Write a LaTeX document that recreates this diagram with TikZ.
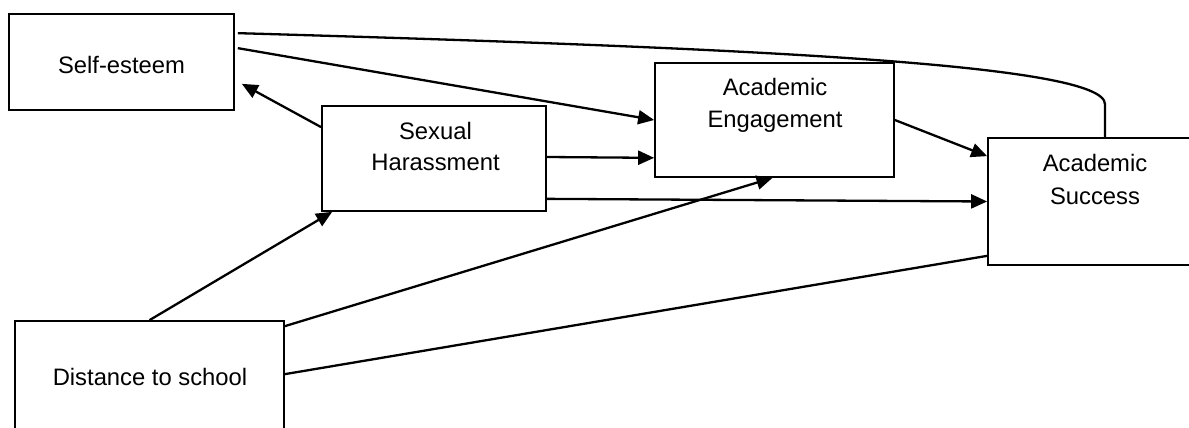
\documentclass[tikz,border=0pt]{standalone}
\usepackage{fontspec}
\setmainfont{Liberation Sans}
\usetikzlibrary{arrows.meta}
\begin{document}
\begin{tikzpicture}[x=1pt,y=-1pt,
  box/.style={draw=black, line width=1.7pt, rectangle, inner sep=0pt},
  lbl/.style={anchor=base, inner sep=0pt, font=\fontsize{23.8}{31.6}\selectfont, align=center},
  conn/.style={draw=black, line width=2.3pt},
  arr/.style={conn, -{Triangle[length=16pt,width=14pt]}}]
\useasboundingbox (0,0) rectangle (1189,428);
\clip (0,0) rectangle (1189,428);
% boxes
\node[box, minimum width=225pt, minimum height=96pt] (se) at (121.5,62) {};
\node[box, minimum width=224pt, minimum height=105pt] (sh) at (434,158.5) {};
\node[box, minimum width=239pt, minimum height=114pt] (ae) at (774.5,120) {};
\node[box, minimum width=214pt, minimum height=127pt] (as) at (1095,201.5) {};
\node[box, minimum width=269pt, minimum height=130pt] (ds) at (149.5,386) {};
% labels
\node[lbl] (seT) at (121.5,74) {Self-esteem};
\node[lbl] (shT1) at (435.5,139.3) {Sexual};
\node[lbl] (shT2) at (435.5,170.7) {Harassment};
\node[lbl] (aeT1) at (775,95.7) {Academic};
\node[lbl] (aeT2) at (775,127.3) {Engagement};
\node[lbl] (asT1) at (1095,171.7) {Academic};
\node[lbl] (asT2) at (1095,204) {Success};
\node[lbl] (dsT) at (150,385) {Distance to school};
% connectors
\draw[conn] ([xshift=3pt,yshift=-20pt]se.north east) .. controls (750,48) and (1105,64) .. ([xshift=10pt,yshift=33pt]as.north) -- ([xshift=10pt]as.north);
\draw[arr] ([xshift=3pt,yshift=-35pt]se.north east) -- (ae.west);
\draw[arr] ([yshift=-22pt]sh.north west) -- ([xshift=7pt,yshift=27pt]se.south east);
\draw[arr] ([yshift=1.5pt]sh.east) -- ([yshift=20pt]ae.south west);
\draw[arr] ([yshift=13pt]sh.south east) -- (as.west);
\draw[arr] (ds.north) -- ([xshift=11pt]sh.south west);
\draw[arr] ([yshift=-6pt]ds.north east) -- ([xshift=-2pt]ae.south);
\draw[conn] ([yshift=-54pt]ds.north east) -- ([yshift=10pt]as.south west);
\draw[arr] (ae.east) -- ([yshift=-19pt]as.north west);
\end{tikzpicture}
\end{document}
